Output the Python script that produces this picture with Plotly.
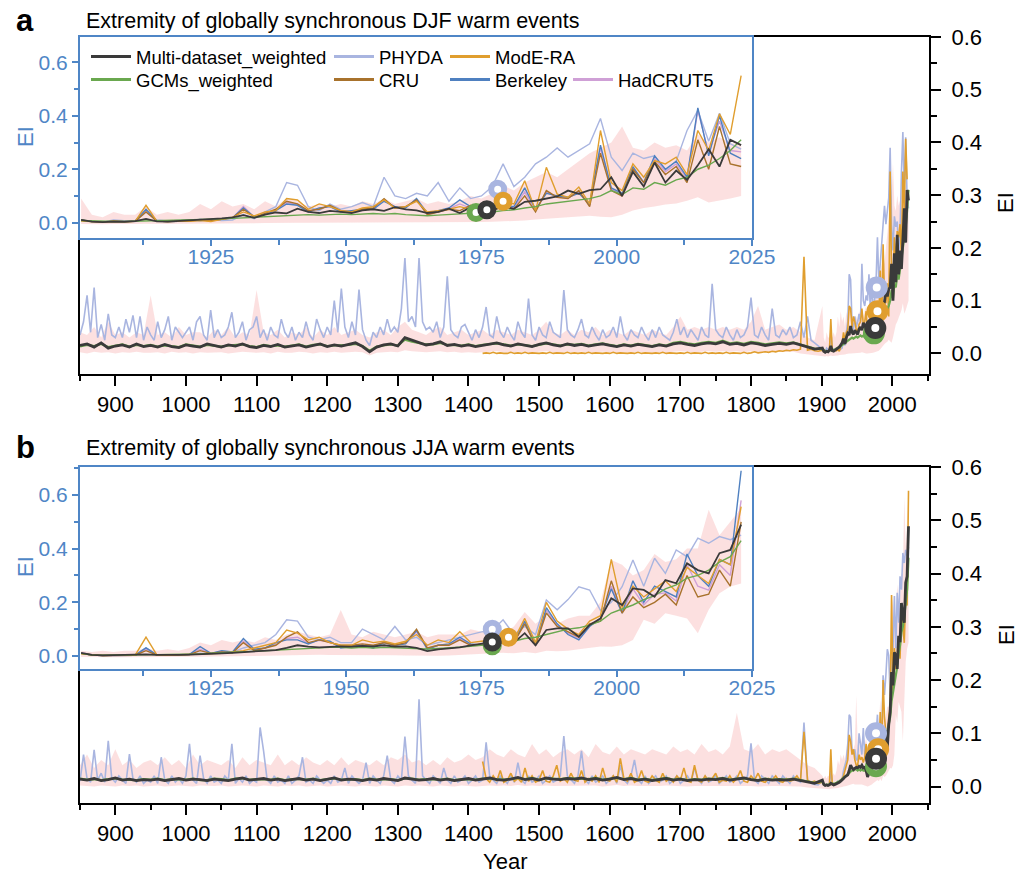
import plotly.graph_objects as go

# ---------------- year grids ----------------
years_long = list(range(850, 1900, 5))      # 5-yr sampling before 1900
years_dec = list(range(850, 1900, 10))      # 10-yr sampling before 1900
years_mode = list(range(1420, 1900, 5))     # ModE-RA starts 1420
years_recent = list(range(1901, 2024, 2))   # 1901..2023

# ---------------- panel a: DJF ----------------
djf_phyda_long = [
    0.035, 0.06, 0.11, 0.04, 0.125, 0.03, 0.055, 0.025, 0.075, 0.035,
    0.03, 0.05, 0.03, 0.065, 0.04, 0.072, 0.03, 0.07, 0.025, 0.05,
    0.035, 0.025, 0.06, 0.03, 0.045, 0.07, 0.025, 0.05, 0.04, 0.03,
    0.04, 0.05, 0.025, 0.06, 0.07, 0.035, 0.025, 0.082, 0.03, 0.045,
    0.03, 0.035, 0.05, 0.078, 0.03, 0.04, 0.06, 0.025, 0.045, 0.05,
    0.07, 0.03, 0.045, 0.025, 0.05, 0.035, 0.03, 0.065, 0.04, 0.03,
    0.05, 0.025, 0.04, 0.03, 0.06, 0.035, 0.025, 0.065, 0.045, 0.03,
    0.05, 0.035, 0.10, 0.04, 0.123, 0.05, 0.03, 0.06, 0.035, 0.121,
    0.045, 0.025, 0.015, 0.04, 0.03, 0.05, 0.035, 0.065, 0.04, 0.05,
    0.04, 0.085, 0.181, 0.06, 0.07, 0.05, 0.181, 0.06, 0.045, 0.05,
    0.04, 0.06, 0.03, 0.05, 0.146, 0.045, 0.035, 0.03, 0.05, 0.055,
    0.04, 0.025, 0.045, 0.03, 0.05, 0.088, 0.035, 0.03, 0.07, 0.04,
    0.03, 0.05, 0.035, 0.025, 0.06, 0.04, 0.03, 0.104, 0.035, 0.025,
    0.05, 0.035, 0.03, 0.06, 0.04, 0.035, 0.03, 0.12, 0.045, 0.035,
    0.03, 0.045, 0.065, 0.035, 0.03, 0.05, 0.035, 0.025, 0.045, 0.03,
    0.035, 0.05, 0.03, 0.07, 0.035, 0.025, 0.045, 0.035, 0.03, 0.05,
    0.035, 0.025, 0.045, 0.03, 0.05, 0.035, 0.03, 0.025, 0.04, 0.065,
    0.035, 0.05, 0.03, 0.045, 0.035, 0.025, 0.05, 0.035, 0.03, 0.132,
    0.045, 0.035, 0.03, 0.05, 0.035, 0.025, 0.045, 0.03, 0.035, 0.05,
    0.106, 0.035, 0.03, 0.05, 0.035, 0.025, 0.085, 0.035, 0.03, 0.045,
    0.035, 0.05, 0.03, 0.035, 0.06, 0.03, 0.07, 0.025, 0.02, 0.015,
]
djf_multi_long = [
    0.015, 0.018, 0.012, 0.020, 0.010, 0.014, 0.016, 0.012, 0.018, 0.013,
    0.015, 0.012, 0.017, 0.013, 0.011, 0.016, 0.014, 0.012, 0.018, 0.015,
    0.012, 0.016, 0.014, 0.018, 0.013, 0.011, 0.015, 0.013, 0.017, 0.012,
    0.014, 0.016, 0.012, 0.015, 0.018, 0.013, 0.016, 0.014, 0.017, 0.020,
    0.013, 0.003, 0.012, 0.016, 0.018, 0.014, 0.030, 0.025, 0.020, 0.016,
    0.018, 0.022, 0.015, 0.017, 0.014, 0.016, 0.013, 0.015, 0.018, 0.020,
    0.016, 0.014, 0.018, 0.015, 0.013, 0.017, 0.020, 0.016, 0.014, 0.018,
    0.015, 0.017, 0.014, 0.016, 0.018, 0.015, 0.013, 0.016, 0.014, 0.017,
    0.015, 0.013, 0.016, 0.014, 0.018, 0.020, 0.017, 0.015, 0.018, 0.020,
    0.018, 0.022, 0.017, 0.019, 0.016, 0.020, 0.018, 0.015, 0.017, 0.019,
    0.017, 0.020, 0.016, 0.012, 0.008,
]
djf_gcm_long = [
    0.013, 0.016, 0.014, 0.018, 0.012, 0.015, 0.017, 0.013, 0.016, 0.014,
    0.016, 0.013, 0.015, 0.014, 0.012, 0.017, 0.015, 0.013, 0.016, 0.014,
    0.013, 0.015, 0.016, 0.017, 0.014, 0.012, 0.016, 0.014, 0.015, 0.013,
    0.015, 0.017, 0.013, 0.016, 0.017, 0.014, 0.015, 0.015, 0.016, 0.018,
    0.014, 0.005, 0.013, 0.015, 0.017, 0.015, 0.026, 0.022, 0.019, 0.017,
    0.017, 0.020, 0.016, 0.016, 0.015, 0.017, 0.014, 0.016, 0.017, 0.019,
    0.017, 0.015, 0.017, 0.016, 0.014, 0.016, 0.019, 0.017, 0.015, 0.017,
    0.016, 0.018, 0.015, 0.017, 0.019, 0.016, 0.014, 0.017, 0.015, 0.018,
    0.016, 0.014, 0.017, 0.015, 0.020, 0.022, 0.019, 0.017, 0.020, 0.022,
    0.020, 0.024, 0.019, 0.021, 0.018, 0.022, 0.020, 0.017, 0.019, 0.021,
    0.019, 0.021, 0.017, 0.013, 0.009,
]
djf_mode_long = [
    0.0, 0.001, 0.0, 0.002, 0.0, 0.001, 0.0, 0.0, 0.002, 0.0,
    0.001, 0.0, 0.002, 0.0, 0.001, 0.0, 0.0, 0.001, 0.0, 0.002,
    0.0, 0.001, 0.0, 0.0, 0.002, 0.0, 0.001, 0.0, 0.001, 0.0,
    0.002, 0.0, 0.001, 0.0, 0.0, 0.001, 0.0, 0.002, 0.0, 0.001,
    0.0, 0.0, 0.001, 0.0, 0.002, 0.0, 0.001, 0.0, 0.0, 0.001,
    0.0, 0.002, 0.0, 0.001, 0.0, 0.0, 0.001, 0.0, 0.002, 0.0,
    0.001, 0.0, 0.0, 0.002, 0.0, 0.001, 0.0, 0.001, 0.0, 0.002,
    0.0, 0.001, 0.0, 0.0, 0.002, 0.0, 0.001, 0.003, 0.001, 0.002,
    0.003, 0.002, 0.004, 0.003, 0.005, 0.004, 0.006, 0.005, 0.007, 0.006,
    0.008, 0.183, 0.006, 0.008, 0.005, 0.004,
]
djf_band_lo_long = [
    0.002, 0.0, 0.003, 0.001, 0.002, 0.0, 0.002, 0.001, 0.003, 0.001,
    0.001, 0.002, 0.0, 0.003, 0.001, 0.002, 0.0, 0.002, 0.001, 0.002,
    0.002, 0.0, 0.001, 0.003, 0.002, 0.001, 0.002, 0.0, 0.003, 0.001,
    0.001, 0.003, 0.002, 0.0, 0.002, 0.001, 0.003, 0.001, 0.002, 0.003,
    0.002, -0.004, 0.001, 0.002, 0.003, 0.002, 0.006, 0.004, 0.003, 0.002,
    0.003, 0.004, 0.002, 0.003, 0.001, 0.002, 0.001, 0.002, 0.003, 0.004,
    0.002, 0.001, 0.003, 0.002, 0.001, 0.003, 0.004, 0.002, 0.001, 0.003,
    0.002, 0.003, 0.001, 0.002, 0.003, 0.002, 0.001, 0.002, 0.001, 0.003,
    0.002, 0.001, 0.002, 0.001, 0.003, 0.004, 0.003, 0.002, 0.003, 0.004,
    0.003, 0.004, 0.003, 0.004, 0.002, 0.004, 0.003, 0.002, 0.003, 0.003,
    0.002, 0.003, 0.0, -0.002, -0.004,
]
djf_band_hi_long = [
    0.04, 0.035, 0.05, 0.03, 0.06, 0.035, 0.04, 0.03, 0.04, 0.035,
    0.11, 0.035, 0.04, 0.03, 0.05, 0.035, 0.04, 0.04, 0.03, 0.045,
    0.035, 0.05, 0.03, 0.04, 0.035, 0.12, 0.04, 0.035, 0.045, 0.03,
    0.04, 0.035, 0.05, 0.03, 0.045, 0.035, 0.05, 0.035, 0.04, 0.045,
    0.035, 0.03, 0.04, 0.045, 0.035, 0.05, 0.06, 0.045, 0.04, 0.035,
    0.045, 0.05, 0.035, 0.04, 0.045, 0.035, 0.04, 0.045, 0.035, 0.045,
    0.04, 0.035, 0.045, 0.04, 0.035, 0.045, 0.06, 0.04, 0.035, 0.045,
    0.035, 0.045, 0.04, 0.05, 0.035, 0.045, 0.04, 0.035, 0.045, 0.04,
    0.035, 0.045, 0.04, 0.035, 0.05, 0.07, 0.045, 0.05, 0.045, 0.05,
    0.045, 0.05, 0.045, 0.05, 0.045, 0.06, 0.09, 0.045, 0.05, 0.055,
    0.045, 0.05, 0.04, 0.03, 0.025,
]

djf_multi = [
    0.010, 0.004, 0.002, 0.004, 0.003,
    0.006, 0.014, 0.005, 0.004, 0.006,
    0.008, 0.010, 0.012, 0.016, 0.020,
    0.028, 0.018, 0.030, 0.038, 0.035,
    0.052, 0.040, 0.036, 0.044, 0.040,
    0.036, 0.046, 0.050, 0.044, 0.058,
    0.050, 0.046, 0.036, 0.040, 0.052,
    0.036, 0.058, 0.046, 0.048, 0.060,
    0.052, 0.078, 0.082, 0.090, 0.098,
    0.120, 0.108, 0.122, 0.125, 0.170,
    0.100, 0.190, 0.135, 0.225, 0.150,
    0.195, 0.160, 0.215, 0.275, 0.210,
    0.310, 0.290,
]
djf_phyda = [
    0.008, 0.004, 0.002, 0.010, 0.006,
    0.004, 0.040, 0.010, 0.006, 0.008,
    0.010, 0.006, 0.012, 0.008, 0.010,
    0.030, 0.015, 0.040, 0.060, 0.150,
    0.140, 0.060, 0.045, 0.070, 0.050,
    0.060, 0.075, 0.060, 0.170, 0.100,
    0.090, 0.110, 0.100, 0.150, 0.080,
    0.130, 0.090, 0.100, 0.135, 0.220,
    0.135, 0.170, 0.220, 0.245, 0.280,
    0.245, 0.270, 0.295, 0.390, 0.245,
    0.195, 0.260, 0.240, 0.250, 0.195,
    0.230, 0.345, 0.420, 0.305, 0.410,
    0.295, 0.275,
]
djf_mode = [
    0.006, 0.004, 0.002, 0.004, 0.003,
    0.005, 0.065, 0.006, 0.004, 0.006,
    0.005, 0.008, 0.004, 0.012, 0.020,
    0.040, 0.025, 0.040, 0.045, 0.090,
    0.085, 0.050, 0.070, 0.060, 0.045,
    0.040, 0.055, 0.060, 0.085, 0.055,
    0.060, 0.080, 0.040, 0.045, 0.050,
    0.060, 0.050, 0.040, 0.060, 0.080,
    0.070, 0.157, 0.045, 0.207, 0.107,
    0.095, 0.133, 0.070, 0.345, 0.150,
    0.120, 0.220, 0.170, 0.232, 0.220,
    0.245, 0.180, 0.345, 0.270, 0.407,
    0.330, 0.550,
]
djf_gcm = [
    0.008, 0.006, 0.005, 0.004, 0.004,
    0.005, 0.006, 0.006, 0.007, 0.008,
    0.009, 0.010, 0.012, 0.014, 0.016,
    0.018, 0.020, 0.022, 0.024, 0.026,
    0.028, 0.030, 0.028, 0.030, 0.032,
    0.030, 0.032, 0.034, 0.032, 0.034,
    0.030, 0.028, 0.026, 0.028, 0.030,
    0.032, 0.034, 0.036, 0.040, 0.045,
    0.048, 0.055, 0.060, 0.070, 0.075,
    0.080, 0.085, 0.090, 0.100, 0.120,
    0.105, 0.130, 0.125, 0.150, 0.140,
    0.160, 0.170, 0.200, 0.215, 0.240,
    0.270, 0.310,
]
djf_cru = [
    0.010, 0.004, 0.003, 0.006, 0.004,
    0.005, 0.040, 0.006, 0.004, 0.005,
    0.006, 0.010, 0.008, 0.012, 0.018,
    0.050, 0.020, 0.035, 0.050, 0.080,
    0.070, 0.045, 0.050, 0.065, 0.045,
    0.040, 0.050, 0.055, 0.090, 0.055,
    0.060, 0.085, 0.030, 0.040, 0.050,
    0.045, 0.065, 0.040, 0.045, 0.060,
    0.050, 0.100, 0.040, 0.120, 0.095,
    0.090, 0.120, 0.060, 0.260, 0.120,
    0.100, 0.200, 0.150, 0.230, 0.180,
    0.210, 0.150, 0.310, 0.200, 0.360,
    0.220, 0.210,
]
djf_berk = [
    0.010, 0.004, 0.002, 0.006, 0.004,
    0.006, 0.050, 0.006, 0.004, 0.005,
    0.006, 0.012, 0.008, 0.014, 0.018,
    0.055, 0.022, 0.030, 0.045, 0.070,
    0.065, 0.040, 0.055, 0.060, 0.040,
    0.045, 0.050, 0.050, 0.080, 0.060,
    0.055, 0.090, 0.035, 0.045, 0.055,
    0.085, 0.060, 0.040, 0.050, 0.065,
    0.060, 0.130, 0.050, 0.110, 0.100,
    0.095, 0.110, 0.070, 0.290, 0.130,
    0.110, 0.210, 0.150, 0.250, 0.200,
    0.230, 0.170, 0.430, 0.250, 0.400,
    0.260, 0.240,
]
djf_had = [
    0.008, 0.006, 0.003, 0.005, 0.004,
    0.006, 0.045, 0.006, 0.005, 0.006,
    0.007, 0.011, 0.009, 0.013, 0.017,
    0.060, 0.020, 0.032, 0.048, 0.075,
    0.068, 0.042, 0.052, 0.062, 0.042,
    0.042, 0.048, 0.052, 0.085, 0.058,
    0.058, 0.085, 0.032, 0.042, 0.052,
    0.070, 0.055, 0.038, 0.048, 0.062,
    0.055, 0.115, 0.045, 0.115, 0.095,
    0.092, 0.115, 0.065, 0.280, 0.125,
    0.105, 0.205, 0.150, 0.240, 0.190,
    0.220, 0.165, 0.420, 0.260, 0.380,
    0.270, 0.265,
]
djf_band_lo = [
    -0.005, -0.006, -0.006, -0.005, -0.006,
    -0.005, -0.004, -0.005, -0.005, -0.004,
    -0.004, -0.004, -0.003, -0.003, -0.003,
    -0.002, -0.002, -0.001, 0.000, 0.000,
    0.000, 0.000, 0.000, 0.001, 0.000,
    0.000, 0.001, 0.001, 0.002, 0.001,
    0.000, 0.000, 0.000, 0.000, 0.001,
    0.000, 0.001, 0.002, 0.003, 0.005,
    0.005, 0.008, 0.012, 0.015, 0.018,
    0.020, 0.022, 0.026, 0.022, 0.020,
    0.030, 0.045, 0.055, 0.060, 0.068,
    0.072, 0.082, 0.095, 0.075, 0.082,
    0.090, 0.100,
]
djf_band_hi = [
    0.090, 0.030, 0.020, 0.040, 0.030,
    0.030, 0.060, 0.030, 0.040, 0.030,
    0.040, 0.070, 0.050, 0.080, 0.060,
    0.070, 0.050, 0.080, 0.060, 0.090,
    0.080, 0.060, 0.070, 0.060, 0.070,
    0.060, 0.080, 0.070, 0.090, 0.070,
    0.080, 0.090, 0.070, 0.080, 0.070,
    0.080, 0.100, 0.090, 0.110, 0.140,
    0.120, 0.150, 0.170, 0.190, 0.170,
    0.200, 0.230, 0.260, 0.280, 0.300,
    0.360, 0.280, 0.270, 0.300, 0.280,
    0.290, 0.270, 0.330, 0.300, 0.320,
    0.300, 0.290,
]

# emergence rings (PHYDA, ModE-RA, GCMs, Multi)
djf_ring_years = [1978, 1979, 1974, 1976]
djf_ring_vals = [0.125, 0.080, 0.038, 0.048]

# ---------------- panel b: JJA ----------------
jja_phyda_long = [
    0.010, 0.060, 0.015, 0.008, 0.069, 0.012, 0.025, 0.008, 0.086, 0.015,
    0.008, 0.020, 0.012, 0.006, 0.061, 0.015, 0.008, 0.020, 0.006, 0.012,
    0.008, 0.020, 0.006, 0.055, 0.012, 0.006, 0.020, 0.008, 0.015, 0.006,
    0.020, 0.080, 0.012, 0.006, 0.058, 0.015, 0.006, 0.020, 0.008, 0.012,
    0.006, 0.020, 0.012, 0.080, 0.006, 0.015, 0.008, 0.020, 0.006, 0.012,
    0.008, 0.111, 0.066, 0.012, 0.006, 0.020, 0.008, 0.012, 0.006, 0.020,
    0.006, 0.012, 0.020, 0.055, 0.008, 0.012, 0.006, 0.020, 0.012, 0.006,
    0.012, 0.006, 0.020, 0.008, 0.012, 0.035, 0.006, 0.020, 0.012, 0.006,
    0.012, 0.045, 0.006, 0.020, 0.012, 0.006, 0.020, 0.058, 0.012, 0.006,
    0.020, 0.012, 0.094, 0.020, 0.012, 0.006, 0.164, 0.020, 0.012, 0.006,
    0.020, 0.012, 0.006, 0.035, 0.012, 0.006, 0.020, 0.008, 0.012, 0.020,
    0.006, 0.012, 0.020, 0.008, 0.012, 0.083, 0.020, 0.012, 0.006, 0.020,
    0.012, 0.006, 0.020, 0.008, 0.045, 0.012, 0.006, 0.020, 0.008, 0.012,
    0.020, 0.006, 0.012, 0.020, 0.008, 0.012, 0.020, 0.095, 0.020, 0.012,
    0.006, 0.020, 0.067, 0.012, 0.006, 0.020, 0.008, 0.012, 0.020, 0.006,
    0.012, 0.020, 0.006, 0.040, 0.012, 0.006, 0.020, 0.050, 0.012, 0.006,
    0.020, 0.006, 0.012, 0.020, 0.008, 0.012, 0.020, 0.006, 0.012, 0.020,
    0.006, 0.012, 0.020, 0.008, 0.035, 0.012, 0.006, 0.020, 0.008, 0.012,
    0.020, 0.006, 0.012, 0.020, 0.008, 0.012, 0.020, 0.006, 0.012, 0.020,
    0.081, 0.012, 0.006, 0.020, 0.012, 0.006, 0.020, 0.012, 0.006, 0.020,
    0.012, 0.006, 0.020, 0.012, 0.008, 0.120, 0.012, 0.006, 0.004, 0.003,
]
jja_multi_long = [
    0.014, 0.012, 0.015, 0.011, 0.013, 0.016, 0.012, 0.014, 0.011, 0.013,
    0.012, 0.014, 0.011, 0.013, 0.015, 0.012, 0.014, 0.013, 0.011, 0.014,
    0.013, 0.011, 0.014, 0.016, 0.012, 0.013, 0.015, 0.012, 0.014, 0.011,
    0.013, 0.015, 0.012, 0.014, 0.011, 0.013, 0.016, 0.012, 0.014, 0.013,
    0.011, 0.014, 0.012, 0.015, 0.013, 0.011, 0.016, 0.014, 0.012, 0.013,
    0.015, 0.012, 0.014, 0.011, 0.013, 0.015, 0.012, 0.014, 0.016, 0.013,
    0.012, 0.014, 0.017, 0.013, 0.015, 0.012, 0.016, 0.014, 0.013, 0.015,
    0.014, 0.016, 0.013, 0.015, 0.012, 0.014, 0.017, 0.013, 0.015, 0.012,
    0.014, 0.011, 0.013, 0.015, 0.012, 0.014, 0.011, 0.013, 0.012, 0.014,
    0.013, 0.015, 0.012, 0.014, 0.016, 0.013, 0.011, 0.014, 0.012, 0.013,
    0.012, 0.014, 0.011, 0.008, 0.006,
]
jja_gcm_long = [
    0.015, 0.013, 0.014, 0.012, 0.014, 0.015, 0.013, 0.013, 0.012, 0.014,
    0.013, 0.015, 0.012, 0.014, 0.014, 0.013, 0.015, 0.012, 0.012, 0.015,
    0.014, 0.012, 0.015, 0.015, 0.013, 0.014, 0.014, 0.013, 0.015, 0.012,
    0.014, 0.014, 0.013, 0.015, 0.012, 0.014, 0.015, 0.013, 0.013, 0.014,
    0.012, 0.015, 0.013, 0.014, 0.014, 0.012, 0.015, 0.015, 0.013, 0.014,
    0.014, 0.013, 0.015, 0.012, 0.014, 0.014, 0.013, 0.015, 0.015, 0.014,
    0.013, 0.015, 0.016, 0.014, 0.016, 0.013, 0.015, 0.015, 0.014, 0.016,
    0.015, 0.015, 0.014, 0.016, 0.013, 0.015, 0.016, 0.014, 0.016, 0.013,
    0.015, 0.012, 0.014, 0.016, 0.013, 0.015, 0.012, 0.014, 0.013, 0.015,
    0.014, 0.016, 0.013, 0.015, 0.015, 0.014, 0.012, 0.015, 0.013, 0.014,
    0.013, 0.015, 0.012, 0.009, 0.007,
]
jja_mode_long = [
    0.047, 0.015, 0.008, 0.020, 0.010, 0.030, 0.008, 0.012, 0.025, 0.010,
    0.015, 0.008, 0.035, 0.010, 0.020, 0.008, 0.012, 0.030, 0.010, 0.008,
    0.020, 0.040, 0.010, 0.015, 0.008, 0.025, 0.012, 0.010, 0.030, 0.008,
    0.015, 0.010, 0.020, 0.008, 0.035, 0.012, 0.010, 0.020, 0.008, 0.053,
    0.015, 0.010, 0.025, 0.008, 0.012, 0.030, 0.010, 0.008, 0.020, 0.012,
    0.008, 0.025, 0.010, 0.015, 0.008, 0.020, 0.012, 0.035, 0.010, 0.008,
    0.040, 0.012, 0.008, 0.020, 0.010, 0.015, 0.025, 0.008, 0.012, 0.010,
    0.020, 0.008, 0.015, 0.030, 0.010, 0.008, 0.020, 0.012, 0.025, 0.010,
    0.008, 0.015, 0.012, 0.020, 0.010, 0.008, 0.015, 0.010, 0.012, 0.020,
    0.010, 0.103, 0.012, 0.008, 0.010, 0.006,
]
jja_band_lo_long = [
    0.002, 0.001, 0.0, 0.002, 0.001, 0.0, 0.002, 0.001, 0.002, 0.0,
    0.001, 0.002, 0.0, 0.001, 0.002, 0.001, 0.0, 0.002, 0.001, 0.001,
    0.002, 0.0, 0.001, 0.002, 0.001, 0.0, 0.002, 0.001, 0.0, 0.002,
    0.001, 0.002, 0.0, 0.001, 0.002, 0.0, 0.001, 0.002, 0.001, 0.0,
    0.002, 0.001, 0.0, 0.002, 0.001, 0.0, 0.002, 0.001, 0.002, 0.001,
    0.0, 0.002, 0.001, 0.0, 0.002, 0.001, 0.0, 0.001, 0.002, 0.001,
    0.002, 0.001, 0.003, 0.001, 0.002, 0.001, 0.002, 0.001, 0.001, 0.002,
    0.001, 0.002, 0.001, 0.002, 0.0, 0.001, 0.003, 0.001, 0.002, 0.001,
    0.001, 0.0, 0.001, 0.002, 0.001, 0.001, 0.0, 0.001, 0.001, 0.002,
    0.001, 0.002, 0.001, 0.001, 0.002, 0.001, 0.0, 0.001, 0.001, 0.001,
    0.001, 0.001, 0.0, -0.002, -0.003,
]
jja_band_hi_long = [
    0.04, 0.06, 0.035, 0.05, 0.04, 0.07, 0.04, 0.05, 0.035, 0.045,
    0.05, 0.04, 0.055, 0.04, 0.05, 0.035, 0.06, 0.04, 0.05, 0.045,
    0.04, 0.05, 0.035, 0.055, 0.04, 0.05, 0.045, 0.04, 0.06, 0.04,
    0.05, 0.04, 0.055, 0.045, 0.04, 0.05, 0.04, 0.055, 0.04, 0.05,
    0.045, 0.04, 0.05, 0.04, 0.055, 0.05, 0.06, 0.045, 0.05, 0.04,
    0.05, 0.04, 0.055, 0.045, 0.05, 0.06, 0.05, 0.055, 0.07, 0.06,
    0.055, 0.07, 0.06, 0.055, 0.08, 0.06, 0.07, 0.055, 0.065, 0.07,
    0.06, 0.07, 0.055, 0.08, 0.065, 0.06, 0.075, 0.06, 0.07, 0.065,
    0.06, 0.07, 0.065, 0.06, 0.075, 0.065, 0.07, 0.06, 0.08, 0.065,
    0.07, 0.06, 0.075, 0.138, 0.07, 0.065, 0.08, 0.06, 0.07, 0.065,
    0.07, 0.06, 0.05, 0.04, 0.035,
]

jja_multi = [
    0.012, 0.004, 0.002, 0.003, 0.002,
    0.003, 0.006, 0.004, 0.003, 0.004,
    0.005, 0.006, 0.008, 0.010, 0.012,
    0.015, 0.018, 0.020, 0.022, 0.030,
    0.040, 0.035, 0.032, 0.034, 0.036,
    0.035, 0.038, 0.036, 0.040, 0.035,
    0.036, 0.030, 0.018, 0.025, 0.028,
    0.032, 0.040, 0.045, 0.052, 0.048,
    0.050, 0.085, 0.040, 0.097, 0.103,
    0.103, 0.072, 0.116, 0.140, 0.215,
    0.190, 0.252, 0.246, 0.221, 0.283,
    0.271, 0.345, 0.320, 0.308, 0.383,
    0.395, 0.489,
]
jja_phyda = [
    0.010, 0.004, 0.002, 0.004, 0.003,
    0.004, 0.030, 0.005, 0.004, 0.005,
    0.006, 0.010, 0.008, 0.012, 0.014,
    0.030, 0.040, 0.050, 0.080, 0.135,
    0.130, 0.070, 0.060, 0.070, 0.050,
    0.050, 0.100, 0.080, 0.060, 0.110,
    0.060, 0.070, 0.040, 0.050, 0.060,
    0.070, 0.080, 0.090, 0.095, 0.135,
    0.080, 0.110, 0.080, 0.209, 0.172,
    0.210, 0.258, 0.246, 0.170, 0.200,
    0.258, 0.358, 0.260, 0.364, 0.308,
    0.395, 0.370, 0.439, 0.420, 0.445,
    0.433, 0.450,
]
jja_mode = [
    0.008, 0.004, 0.002, 0.003, 0.002,
    0.003, 0.070, 0.004, 0.003, 0.004,
    0.005, 0.006, 0.008, 0.010, 0.015,
    0.020, 0.030, 0.040, 0.050, 0.097,
    0.085, 0.060, 0.070, 0.050, 0.040,
    0.040, 0.060, 0.050, 0.055, 0.045,
    0.055, 0.080, 0.040, 0.060, 0.050,
    0.090, 0.050, 0.055, 0.060, 0.070,
    0.060, 0.140, 0.050, 0.200, 0.130,
    0.100, 0.080, 0.130, 0.150, 0.360,
    0.180, 0.260, 0.220, 0.250, 0.280,
    0.240, 0.330, 0.300, 0.270, 0.360,
    0.340, 0.556,
]
jja_gcm = [
    0.010, 0.004, 0.003, 0.003, 0.003,
    0.004, 0.005, 0.005, 0.006, 0.006,
    0.007, 0.008, 0.010, 0.012, 0.014,
    0.016, 0.018, 0.020, 0.022, 0.025,
    0.028, 0.030, 0.030, 0.032, 0.032,
    0.030, 0.032, 0.030, 0.032, 0.030,
    0.030, 0.028, 0.026, 0.028, 0.030,
    0.032, 0.036, 0.040, 0.045, 0.048,
    0.055, 0.065, 0.070, 0.080, 0.090,
    0.100, 0.105, 0.115, 0.130, 0.160,
    0.175, 0.190, 0.210, 0.225, 0.250,
    0.265, 0.290, 0.300, 0.320, 0.350,
    0.370, 0.430,
]
jja_cru = [
    0.010, 0.004, 0.002, 0.003, 0.002,
    0.003, 0.020, 0.004, 0.003, 0.004,
    0.005, 0.020, 0.010, 0.015, 0.012,
    0.050, 0.020, 0.030, 0.040, 0.070,
    0.090, 0.050, 0.060, 0.050, 0.040,
    0.040, 0.045, 0.040, 0.050, 0.040,
    0.050, 0.100, 0.030, 0.040, 0.040,
    0.060, 0.040, 0.040, 0.050, 0.060,
    0.050, 0.120, 0.040, 0.160, 0.110,
    0.090, 0.070, 0.120, 0.130, 0.280,
    0.160, 0.220, 0.180, 0.200, 0.230,
    0.190, 0.300, 0.220, 0.230, 0.320,
    0.260, 0.500,
]
jja_berk = [
    0.010, 0.004, 0.002, 0.003, 0.002,
    0.003, 0.030, 0.004, 0.003, 0.004,
    0.005, 0.035, 0.010, 0.020, 0.015,
    0.065, 0.025, 0.030, 0.050, 0.060,
    0.060, 0.045, 0.060, 0.055, 0.030,
    0.035, 0.040, 0.030, 0.050, 0.040,
    0.045, 0.095, 0.025, 0.040, 0.045,
    0.070, 0.045, 0.040, 0.050, 0.055,
    0.050, 0.130, 0.040, 0.180, 0.120,
    0.080, 0.060, 0.110, 0.140, 0.250,
    0.160, 0.280, 0.200, 0.260, 0.240,
    0.220, 0.380, 0.300, 0.260, 0.360,
    0.340, 0.690,
]
jja_had = [
    0.012, 0.005, 0.002, 0.003, 0.002,
    0.003, 0.025, 0.004, 0.003, 0.004,
    0.005, 0.025, 0.010, 0.018, 0.013,
    0.055, 0.022, 0.030, 0.045, 0.065,
    0.070, 0.048, 0.058, 0.052, 0.035,
    0.038, 0.042, 0.035, 0.050, 0.040,
    0.048, 0.090, 0.028, 0.040, 0.042,
    0.065, 0.042, 0.040, 0.050, 0.058,
    0.052, 0.125, 0.040, 0.170, 0.115,
    0.085, 0.065, 0.115, 0.135, 0.260,
    0.160, 0.250, 0.190, 0.230, 0.235,
    0.205, 0.340, 0.260, 0.245, 0.340,
    0.300, 0.580,
]
jja_band_lo = [
    -0.004, -0.005, -0.005, -0.005, -0.005,
    -0.005, -0.004, -0.004, -0.004, -0.004,
    -0.003, -0.003, -0.002, -0.002, -0.001,
    0.000, 0.000, 0.001, 0.002, 0.003,
    0.004, 0.004, 0.005, 0.004, 0.004,
    0.004, 0.005, 0.004, 0.004, 0.003,
    0.002, 0.001, 0.000, 0.001, 0.002,
    0.004, 0.006, 0.008, 0.010, 0.012,
    0.010, 0.015, 0.010, 0.020, 0.018,
    0.020, 0.025, 0.030, 0.035, 0.034,
    0.040, 0.060, 0.135, 0.120, 0.159,
    0.150, 0.140, 0.085, 0.172, 0.234,
    0.259, 0.270,
]
jja_band_hi = [
    0.020, 0.015, 0.020, 0.015, 0.020,
    0.020, 0.030, 0.020, 0.025, 0.020,
    0.030, 0.050, 0.040, 0.060, 0.050,
    0.060, 0.050, 0.070, 0.060, 0.080,
    0.090, 0.080, 0.070, 0.080, 0.171,
    0.080, 0.070, 0.090, 0.080, 0.070,
    0.080, 0.090, 0.070, 0.080, 0.080,
    0.080, 0.100, 0.090, 0.100, 0.080,
    0.110, 0.164, 0.120, 0.150, 0.120,
    0.140, 0.150, 0.150, 0.200, 0.358,
    0.340, 0.300, 0.320, 0.380, 0.350,
    0.360, 0.400, 0.400, 0.545, 0.450,
    0.500, 0.550,
]

jja_ring_years = [1977, 1980, 1977, 1977]
jja_ring_vals = [0.100, 0.070, 0.038, 0.052]

# ---------------- styling ----------------
C_MULTI = "#3a3a3a"
C_PHYDA = "#a9b5e0"
C_MODE = "#e09e2e"
C_GCM = "#6aa84f"
C_CRU = "#a8722c"
C_BERK = "#4f80c0"
C_HAD = "#cfa0d6"
C_BAND = "rgba(247,170,170,0.36)"
AX_BLUE = "#4f86c6"
FONT = "Liberation Sans, Arial, sans-serif"
RING_COLORS = [C_PHYDA, C_MODE, C_GCM, C_MULTI]

fig = go.Figure()


def add_line(x, y, color, width, xa, ya):
    fig.add_trace(go.Scatter(x=x, y=y, mode="lines", line=dict(color=color, width=width),
                             xaxis=xa, yaxis=ya, showlegend=False, hoverinfo="skip"))


def add_band(x, lo, hi, xa, ya):
    fig.add_trace(go.Scatter(x=x, y=lo, mode="lines", line=dict(width=0),
                             xaxis=xa, yaxis=ya, showlegend=False, hoverinfo="skip"))
    fig.add_trace(go.Scatter(x=x, y=hi, mode="lines", line=dict(width=0), fill="tonexty",
                             fillcolor=C_BAND, xaxis=xa, yaxis=ya, showlegend=False, hoverinfo="skip"))


def add_rings(xs, ys, size, lw, xa, ya):
    fig.add_trace(go.Scatter(x=xs, y=ys, mode="markers",
                             marker=dict(symbol="circle", size=size, color="white",
                                         line=dict(color=RING_COLORS, width=lw)),
                             xaxis=xa, yaxis=ya, showlegend=False, hoverinfo="skip"))


def draw_panel(d, xm, ym, xi, yi):
    # main (long record)
    add_band(years_dec + years_recent, d["lo_long"] + d["lo"], d["hi_long"] + d["hi"], xm, ym)
    add_line(years_long + years_recent, d["phyda_long"] + d["phyda"], C_PHYDA, 1.6, xm, ym)
    add_line(years_mode + years_recent[:len(d["mode_main"])], d["mode_long"] + d["mode_main"], C_MODE, 1.6, xm, ym)
    add_line(years_dec + years_recent, d["gcm_long"] + d["gcm"], C_GCM, 2.2, xm, ym)
    add_line(years_dec + years_recent, d["multi_long"] + d["multi"], C_MULTI, 2.8, xm, ym)
    add_rings(d["ring_x"], d["ring_y"], 15, 7, xm, ym)
    # inset (1901-2023)
    add_band(years_recent, d["lo"], d["hi"], xi, yi)
    add_line(years_recent, d["phyda"], C_PHYDA, 1.4, xi, yi)
    add_line(years_recent, d["had"], C_HAD, 1.4, xi, yi)
    add_line(years_recent, d["berk"], C_BERK, 1.4, xi, yi)
    add_line(years_recent, d["cru"], C_CRU, 1.4, xi, yi)
    add_line(years_recent, d["mode"], C_MODE, 1.4, xi, yi)
    add_line(years_recent, d["gcm"], C_GCM, 1.4, xi, yi)
    add_line(years_recent, d["multi"], C_MULTI, 1.8, xi, yi)
    add_rings(d["ring_x"], d["ring_y"], 13, 6, xi, yi)


draw_panel(dict(phyda_long=djf_phyda_long, multi_long=djf_multi_long, gcm_long=djf_gcm_long,
                mode_long=djf_mode_long, lo_long=djf_band_lo_long, hi_long=djf_band_hi_long,
                multi=djf_multi, phyda=djf_phyda, mode=djf_mode, mode_main=djf_mode[:-1],
                gcm=djf_gcm, cru=djf_cru, berk=djf_berk, had=djf_had,
                lo=djf_band_lo, hi=djf_band_hi, ring_x=djf_ring_years, ring_y=djf_ring_vals),
           "x", "y", "x2", "y2")
draw_panel(dict(phyda_long=jja_phyda_long, multi_long=jja_multi_long, gcm_long=jja_gcm_long,
                mode_long=jja_mode_long, lo_long=jja_band_lo_long, hi_long=jja_band_hi_long,
                multi=jja_multi, phyda=jja_phyda, mode=jja_mode, mode_main=jja_mode,
                gcm=jja_gcm, cru=jja_cru, berk=jja_berk, had=jja_had,
                lo=jja_band_lo, hi=jja_band_hi, ring_x=jja_ring_years, ring_y=jja_ring_vals),
           "x3", "y3", "x4", "y4")


# positions below are given in picture pixels (plot area 80..929 x 37..803)
def px_x(px):
    return (px - 80) / 849


def px_y(py):
    return (803 - py) / 766


# legend: one small legend per entry so the two rows line up like the original
legend_items = [
    ("Multi-dataset_weighted", C_MULTI, 91, 57),
    ("PHYDA", C_PHYDA, 334, 57),
    ("ModE-RA", C_MODE, 450, 57),
    ("GCMs_weighted", C_GCM, 91, 80),
    ("CRU", C_CRU, 334, 80),
    ("Berkeley", C_BERK, 450, 80),
    ("HadCRUT5", C_HAD, 573, 80),
]
legend_layout = {}
for i, (name, color, px, py) in enumerate(legend_items):
    key = "legend" if i == 0 else f"legend{i + 1}"
    fig.add_trace(go.Scatter(x=[None], y=[None], mode="lines", name=name,
                             line=dict(color=color, width=3), xaxis="x2", yaxis="y2",
                             legend=key, showlegend=True, hoverinfo="skip"))
    legend_layout[key] = dict(x=px_x(px - 5), y=px_y(py), xanchor="left", itemwidth=40,
                              yanchor="middle", bgcolor="rgba(0,0,0,0)", borderwidth=0,
                              font=dict(family=FONT, size=18.5, color="black"))

main_x = dict(range=[850, 2052], tickmode="linear", tick0=900, dtick=100, ticks="outside",
              ticklen=10, tickwidth=1.5, tickcolor="black", showline=True, linecolor="black",
              linewidth=2, mirror=True, showgrid=False, zeroline=False,
              tickfont=dict(size=22, color="black"),
              minor=dict(tick0=850, dtick=50, ticks="outside", ticklen=5, tickwidth=1.5, tickcolor="black"))
main_y = dict(side="right", tickmode="linear", tick0=0, dtick=0.1, tickformat=".1f", ticks="outside",
              ticklen=10, tickwidth=1.5, tickcolor="black", showline=True, linecolor="black",
              linewidth=2, mirror=True, showgrid=False, zeroline=False, ticklabelstandoff=6,
              tickfont=dict(size=22, color="black"),
              minor=dict(dtick=0.05, ticks="outside", ticklen=6, tickwidth=1.5, tickcolor="black"))
ins_x = dict(range=[1900.8, 2025.1], tickmode="linear", tick0=1925, dtick=25, ticks="outside",
             ticklen=6, tickwidth=1.5, tickcolor=AX_BLUE, showline=True, linecolor=AX_BLUE,
             linewidth=2, mirror=True, showgrid=False, zeroline=False, ticklabelstandoff=-7,
             tickfont=dict(size=21, color=AX_BLUE),
             minor=dict(tick0=1912.5, dtick=12.5, ticks="outside", ticklen=5, tickwidth=1.5, tickcolor=AX_BLUE))
ins_y = dict(side="left", tickmode="linear", tick0=0, dtick=0.2, tickformat=".1f", ticks="outside",
             ticklen=6, tickwidth=1.5, tickcolor=AX_BLUE, showline=True, linecolor=AX_BLUE,
             linewidth=2, mirror=True, showgrid=False, zeroline=False,
             tickfont=dict(size=21, color=AX_BLUE),
             minor=dict(dtick=0.1, ticks="outside", ticklen=4, tickwidth=1.5, tickcolor=AX_BLUE))

fig.update_layout(
    width=1026, height=881, template="none",
    margin=dict(l=80, r=97, t=37, b=78),
    paper_bgcolor="white", plot_bgcolor="rgba(0,0,0,0)",
    font=dict(family=FONT, size=20, color="black"),
    xaxis=dict(main_x, domain=[0, 1], anchor="y"),
    yaxis=dict(main_y, domain=[0.5601, 1], anchor="x", range=[-0.039, 0.6]),
    xaxis2=dict(ins_x, domain=[0, 0.7921], anchor="y2"),
    yaxis2=dict(ins_y, domain=[0.7376, 1], anchor="x2", range=[-0.0575, 0.695]),
    xaxis3=dict(main_x, domain=[0, 1], anchor="y3"),
    yaxis3=dict(main_y, domain=[0, 0.4383], anchor="x3", range=[-0.031, 0.6]),
    xaxis4=dict(ins_x, domain=[0, 0.7921], anchor="y4"),
    yaxis4=dict(ins_y, domain=[0.1749, 0.4383], anchor="x4", range=[-0.0485, 0.703]),
    **legend_layout,
)

notes = [
    dict(text="<b>a</b>", x=px_x(14), y=px_y(21), xanchor="left", yanchor="middle", font=dict(size=31)),
    dict(text="Extremity of globally synchronous DJF warm events", x=px_x(84), y=px_y(21),
         xanchor="left", yanchor="middle", font=dict(size=21.5)),
    dict(text="<b>b</b>", x=px_x(14), y=px_y(448), xanchor="left", yanchor="middle", font=dict(size=31)),
    dict(text="Extremity of globally synchronous JJA warm events", x=px_x(84), y=px_y(448),
         xanchor="left", yanchor="middle", font=dict(size=21.5)),
    dict(text="Year", x=px_x(505), y=px_y(862), xanchor="center", yanchor="middle", font=dict(size=22)),
    dict(text="EI", x=px_x(1006), y=px_y(203), textangle=-90, xanchor="center", yanchor="middle", font=dict(size=22)),
    dict(text="EI", x=px_x(1006), y=px_y(635), textangle=-90, xanchor="center", yanchor="middle", font=dict(size=22)),
    dict(text="EI", x=px_x(25), y=px_y(137), textangle=-90, xanchor="center", yanchor="middle",
         font=dict(size=22, color=AX_BLUE)),
    dict(text="EI", x=px_x(25), y=px_y(567), textangle=-90, xanchor="center", yanchor="middle",
         font=dict(size=22, color=AX_BLUE)),
]
for n in notes:
    fig.add_annotation(xref="paper", yref="paper", showarrow=False, **n)

# drop the browser's default 8px page margin so the figure fills the window exactly
fig.write_html("out.html", config={"displayModeBar": False},
               post_script="document.body.style.margin = '0px';")
